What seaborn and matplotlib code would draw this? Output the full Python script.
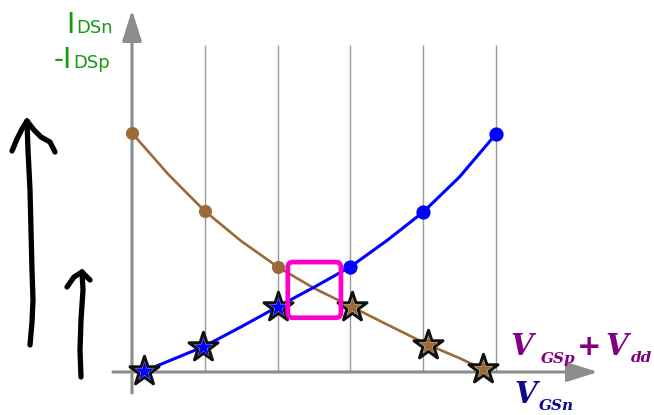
import matplotlib
matplotlib.use("Agg")
import matplotlib.pyplot as plt
from matplotlib.patches import FancyBboxPatch
import seaborn as sns
import pandas as pd

# n-channel branch (blue): V_GSn in grid steps, I_DSn in arbitrary units
vgs_n_curve = [0.17, 0.98, 1.5, 2.0, 2.5, 3.0, 3.5, 4.0, 4.5, 5.0]
ids_n_curve = [0.02, 0.53, 0.95, 1.37, 1.78, 2.21, 2.76, 3.36, 4.10, 5.0]
vgs_n_dots = [3.0, 4.0, 5.0]
ids_n_dots = [2.21, 3.36, 5.0]
vgs_n_stars = [0.17, 0.98, 2.0]
ids_n_stars = [0.02, 0.53, 1.37]

# p-channel branch (brown): V_GSp + V_dd, -I_DSp
vgs_p_curve = [0.0, 0.5, 1.0, 1.5, 2.0, 2.5, 3.02, 3.5, 4.07, 4.5, 4.82]
ids_p_curve = [5.02, 4.15, 3.38, 2.75, 2.21, 1.76, 1.37, 1.0, 0.57, 0.29, 0.06]
vgs_p_dots = [0.0, 1.0, 2.0]
ids_p_dots = [5.02, 3.38, 2.21]
vgs_p_stars = [3.02, 4.07, 4.82]
ids_p_stars = [1.37, 0.57, 0.06]

grid_x = [1, 2, 3, 4, 5]

# operating point box (x range, y range)
box_x = (2.14, 2.87)
box_y = (1.14, 2.31)

W, H = 654, 415
X0, Y0 = 132, 372          # pixel position of the origin
SX, SY = 72.8, 47.6        # pixels per unit

BLUE = "#0000ff"
BROWN = "#9c6a36"
MAGENTA = "#ff00cc"
GRAY = "#8c8c8c"
GREEN = "#1a961a"
PURPLE = "#800080"
NAVY = "#0c0c8a"


def to_data(px, py):
    return (px - X0) / SX, (Y0 - py) / SY


def fx(px):
    return px / W


def fy(py):
    return 1 - py / H


sns.set_style("white")
fig = plt.figure(figsize=(W / 100, H / 100), dpi=100)
ax = fig.add_axes([0, 0, 1, 1])
ax.set_xlim(-X0 / SX, (W - X0) / SX)
ax.set_ylim((Y0 - H) / SY, Y0 / SY)
ax.axis("off")

# vertical grid lines
top = to_data(0, 45)[1]
ax.vlines(grid_x, 0, top, color="#9a9a9a", lw=1.0, zorder=1)

# axes with arrow heads
arrow = dict(arrowstyle="-|>,head_length=0.95,head_width=0.3", color=GRAY,
             lw=2.2, shrinkA=0, shrinkB=0, mutation_scale=20)
ax.annotate("", xy=to_data(598, Y0), xytext=to_data(113, Y0), arrowprops=arrow, zorder=2)
ax.annotate("", xy=to_data(X0, 10), xytext=to_data(X0, 393), arrowprops=arrow, zorder=2)

# curves
n_df = pd.DataFrame({"v": vgs_n_curve, "i": ids_n_curve})
p_df = pd.DataFrame({"v": vgs_p_curve, "i": ids_p_curve})
sns.lineplot(data=p_df, x="v", y="i", sort=False, color=BROWN, lw=1.9, ax=ax, zorder=3)
sns.lineplot(data=n_df, x="v", y="i", sort=False, color=BLUE, lw=2.2, ax=ax, zorder=3)

sns.scatterplot(x=vgs_p_dots, y=ids_p_dots, color=BROWN, s=90, linewidth=0, ax=ax, zorder=4)
sns.scatterplot(x=vgs_n_dots, y=ids_n_dots, color=BLUE, s=105, linewidth=0, ax=ax, zorder=4)

# stars: white star with black outline, smaller coloured star inside
for xs, ys, col in [(vgs_n_stars, ids_n_stars, BLUE), (vgs_p_stars, ids_p_stars, BROWN)]:
    sns.scatterplot(x=xs, y=ys, marker="*", s=480, color="white", edgecolor="#111111",
                    linewidth=2.2, zorder=5, ax=ax)
    sns.scatterplot(x=xs, y=ys, marker="*", s=200, color=col, linewidth=0, zorder=5.5, ax=ax)

# operating point box
box = FancyBboxPatch((box_x[0], box_y[0]), box_x[1] - box_x[0], box_y[1] - box_y[0],
                     boxstyle="round,pad=0,rounding_size=0.07", mutation_aspect=SX / SY,
                     fill=False, edgecolor=MAGENTA, lw=3.4, zorder=6)
ax.add_patch(box)

# hand drawn arrows (pixel positions)
long_shaft = [(30, 345), (32, 322), (33, 300), (32, 270), (31, 230), (30, 190),
              (28, 150), (27, 121)]
long_left = [(12, 151), (17, 139), (22, 129), (27, 121)]
long_right = [(27, 121), (34, 130), (41, 137), (50, 142), (55, 152)]
short_shaft = [(81, 377), (80, 350), (81, 320), (83, 290), (82, 272)]
short_left = [(67, 287), (74, 277), (82, 272)]
short_right = [(82, 272), (90, 280)]
for stroke in [long_shaft, long_left, long_right, short_shaft, short_left, short_right]:
    pts = [to_data(px, py) for px, py in stroke]
    ax.plot([p[0] for p in pts], [p[1] for p in pts], color="black", lw=3.8,
            solid_capstyle="round", solid_joinstyle="round", zorder=7)

# y label
sans = ["DejaVu Sans"]
fig.text(fx(66), fy(33), "I", fontsize=20, color=GREEN, family=sans, va="baseline")
fig.text(fx(76), fy(33), "DSn", fontsize=13, color=GREEN, family=sans, va="baseline")
fig.text(fx(54), fy(68), "-I", fontsize=20, color=GREEN, family=sans, va="baseline")
fig.text(fx(73), fy(68), "DSp", fontsize=13, color=GREEN, family=sans, va="baseline")

# x labels
serif = dict(family=["DejaVu Serif"], weight="bold", style="italic")
fig.text(fx(510), fy(355), "V", fontsize=21, color=PURPLE, va="baseline", **serif)
fig.text(fx(541), fy(363), "GSp", fontsize=11, color=PURPLE, va="baseline", **serif)
fig.text(fx(589), fy(347), "+", fontsize=21, color=PURPLE, va="center", ha="center",
         family=sans, weight="bold")
fig.text(fx(605), fy(355), "V", fontsize=21, color=PURPLE, va="baseline", **serif)
fig.text(fx(631), fy(362), "dd", fontsize=11, color=PURPLE, va="baseline", **serif)
fig.text(fx(514), fy(403), "V", fontsize=21, color=NAVY, va="baseline", **serif)
fig.text(fx(539), fy(410), "GSn", fontsize=11, color=NAVY, va="baseline", **serif)

fig.savefig("out.png", dpi=100)
